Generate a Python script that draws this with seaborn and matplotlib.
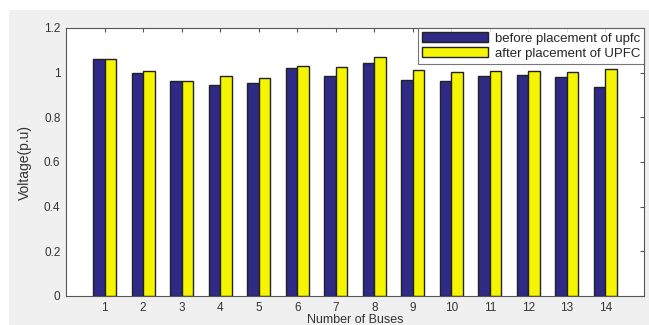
import numpy as np
import pandas as pd
import seaborn as sns
import matplotlib
matplotlib.use("Agg")
from matplotlib import pyplot as plt
from matplotlib.patches import Rectangle

buses = list(range(1, 15))
before_upfc = [1.060, 0.997, 0.961, 0.946, 0.952, 1.021, 0.987,
               1.042, 0.967, 0.963, 0.984, 0.991, 0.979, 0.938]
after_upfc = [1.060, 1.006, 0.961, 0.984, 0.978, 1.030, 1.026,
              1.072, 1.012, 1.002, 1.009, 1.009, 1.004, 1.015]
series_names = ["before placement of upfc", "after placement of UPFC"]

df = pd.DataFrame({
    "bus": buses * 2,
    "voltage": before_upfc + after_upfc,
    "series": [series_names[0]] * len(buses) + [series_names[1]] * len(buses),
})

sns.set_style("white")
plt.rcParams["font.family"] = ["Liberation Sans", "DejaVu Sans"]

fig = plt.figure(figsize=(6.49, 3.25), dpi=100, facecolor="white")
# matlab-ish grey figure panel
fig.patches.append(Rectangle((9 / 649, 0), 1, 1 - 10 / 325, transform=fig.transFigure,
                             facecolor="#f0f0f0", edgecolor="none", zorder=-10))
ax = fig.add_axes([66 / 649, 29 / 325, 578 / 649, 268 / 325])

sns.barplot(data=df, x="bus", y="voltage", hue="series", ax=ax,
            palette=["#2e2a86", "#f5f500"], width=0.6, edgecolor="#222222",
            linewidth=1.0, saturation=1)

ax.set_xlim(-1, 14)
ax.set_ylim(0, 1.2)
ax.set_yticks(np.arange(0, 1.21, 0.2))
ax.set_yticklabels(["0", "0.2", "0.4", "0.6", "0.8", "1", "1.2"])
for s in ax.spines.values():
    s.set_color("#555555")
    s.set_linewidth(0.8)
ax.tick_params(direction="in", top=True, right=True, length=3, color="#555555",
               labelsize=8.5, labelcolor="#333333", pad=4)
ax.set_xlabel("Number of Buses", fontsize=9, color="#333333", labelpad=0)
ax.set_ylabel("Voltage(p.u)", fontsize=10, color="#333333", labelpad=9)

leg = ax.legend(loc="upper right", fontsize=9.5, frameon=True, fancybox=False,
                edgecolor="#555555", borderaxespad=0, handlelength=5,
                handleheight=0.85, handletextpad=0.5, borderpad=0.3,
                labelspacing=0.15)
leg.get_frame().set_linewidth(0.8)

fig.savefig("out.png", dpi=100, facecolor=fig.get_facecolor())
